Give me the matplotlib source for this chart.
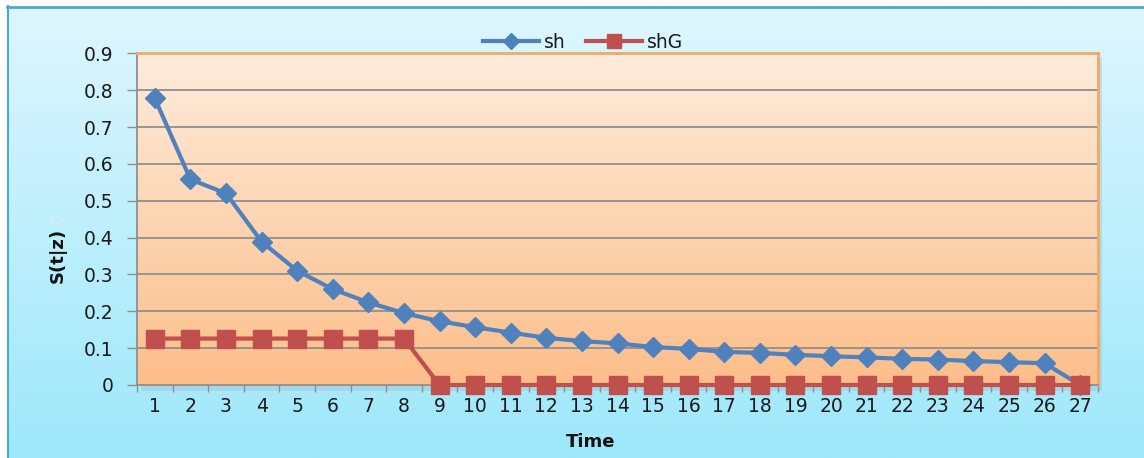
import numpy as np
import matplotlib.pyplot as plt
from matplotlib.lines import Line2D
from matplotlib.patches import Rectangle

# survival estimates per time step
time = np.arange(1, 28)
sh = [0.778, 0.558, 0.52, 0.389, 0.31, 0.26, 0.224, 0.195, 0.173, 0.157,
      0.142, 0.128, 0.119, 0.113, 0.103, 0.098, 0.090, 0.087, 0.082, 0.078,
      0.075, 0.071, 0.069, 0.065, 0.062, 0.059, 0.0]
shG = [0.126] * 8 + [0.0] * 19
yticks = np.round(np.arange(0, 0.91, 0.1), 1)

BLUE = '#4f81bd'
RED = '#c0504d'

W, H = 1144, 458
fig = plt.figure(figsize=(W / 100, H / 100), dpi=100)
fig.patch.set_facecolor('white')

# chart frame with a light cyan vertical gradient
bg = fig.add_axes([0, 0, 1, 1], zorder=-10)
bg.set_xlim(0, W)
bg.set_ylim(H, 0)
bg.axis('off')
top_c = np.array([222, 246, 254]) / 255
bot_c = np.array([158, 232, 251]) / 255
t = np.linspace(0, 1, 256)[:, None]
grad = (top_c[None, :] * (1 - t) + bot_c[None, :] * t)[:, None, :]
bg.imshow(grad, extent=(7, W, H, 6), aspect='auto', zorder=0)
bg.plot([7, W], [6.5, 6.5], color='#4bacc6', lw=2, zorder=2)
bg.plot([7.5, 7.5], [6, H], color='#4bacc6', lw=1.5, zorder=2)
# soft shadow behind the plot area
bg.add_patch(Rectangle((141, 57), 961, 334, color='#9fb7c0', alpha=0.35, lw=0, zorder=1))

ax = fig.add_axes([137 / W, 1 - 385 / H, 961 / W, 331.7 / H])
pc_top = np.array([254, 236, 220]) / 255
pc_bot = np.array([252, 190, 138]) / 255
pgrad = (pc_top[None, :] * (1 - t) + pc_bot[None, :] * t)[:, None, :]
ax.imshow(pgrad, extent=(0.5, 27.5, 0, 0.9), aspect='auto', zorder=0)

for y in yticks[1:-1]:
    ax.axhline(y, color='#8f8f8f', lw=1.3, zorder=1)

ax.plot(time, sh, color=BLUE, lw=3, marker='D', ms=10.5, mec=BLUE,
        zorder=3, clip_on=False)
ax.plot(time, shG, color=RED, lw=3, marker='s', ms=13.5, mec=RED,
        zorder=4, clip_on=False)

ax.set_xlim(0.5, 27.5)
ax.set_ylim(0, 0.9)

# tick marks between categories, labels under each category
ax.set_xticks(np.arange(0.5, 28, 1))
ax.set_xticklabels([])
ax.set_xticks(time, minor=True)
ax.set_xticklabels([str(v) for v in time], minor=True)
ax.tick_params(axis='x', which='major', length=5, width=1, color='#8f8f8f')
ax.tick_params(axis='x', which='minor', length=0, pad=9, labelsize=13.5,
               labelcolor='#1a1a1a')

ax.set_yticks(yticks)
ax.set_yticklabels(['0' if v == 0 else f'{v:.1f}' for v in yticks])
ax.tick_params(axis='y', length=7, width=1, color='#8f8f8f', pad=10,
               labelsize=13.5, labelcolor='#1a1a1a')

for s in ['left', 'bottom']:
    ax.spines[s].set_color('#8f8f8f')
    ax.spines[s].set_linewidth(1.3)
for s in ['top', 'right']:
    ax.spines[s].set_color('#f2a865')
    ax.spines[s].set_linewidth(2)

fig.text(591 / W, 1 - 442 / H, 'Time', ha='center', va='center',
         fontsize=13, fontweight='bold', color='#111111')
fig.text(58 / W, 1 - 255 / H, 'S(t|z)', ha='center', va='center',
         rotation=90, fontsize=13, fontweight='bold', color='#111111')
fig.text(58 / W, 1 - 219 / H, '0', ha='center', va='center',
         rotation=90, fontsize=12, color='#d4eef6')

handles = [Line2D([], [], color=BLUE, lw=3, marker='D', ms=8, mec=BLUE),
           Line2D([], [], color=RED, lw=3, marker='s', ms=10, mec=RED)]
fig.legend(handles, ['sh', 'shG'], loc='center', ncol=2,
           bbox_to_anchor=(583 / W, 1 - 42 / H), frameon=False,
           fontsize=13.5, handlelength=3.0, handletextpad=0.25,
           columnspacing=1.1, labelcolor='#1a1a1a')

fig.savefig('out.png', dpi=100)
